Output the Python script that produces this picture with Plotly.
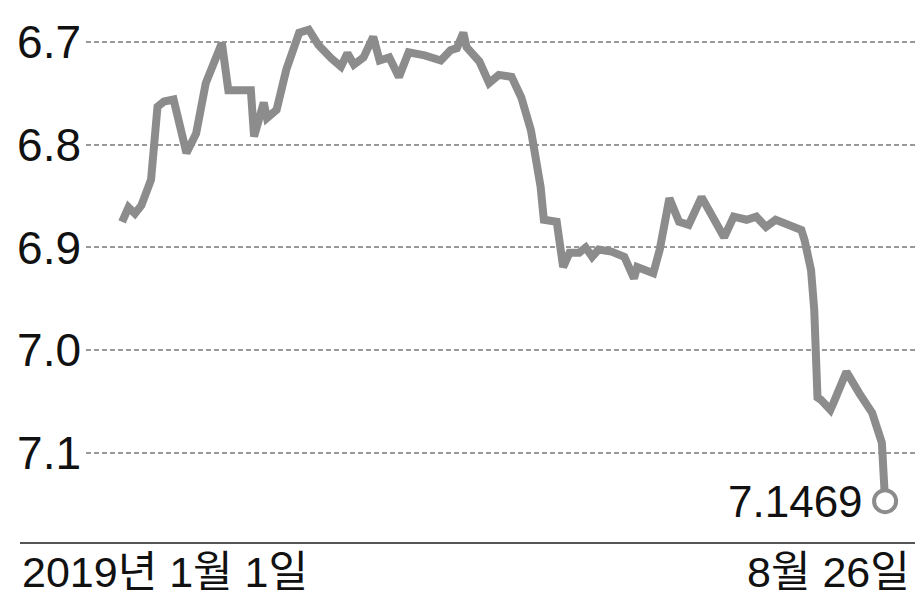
"""위안화 환율 추이 (2019.1.1 ~ 8.26) — 역전된 y축 선 그래프"""

import plotly.graph_objects as go

# ============================================================
# 데이터
# ============================================================

dates = [
    '2019-01-01', '2019-01-03', '2019-01-05', '2019-01-07', '2019-01-10',
    '2019-01-12', '2019-01-14', '2019-01-17', '2019-01-21', '2019-01-24',
    '2019-01-27', '2019-01-30', '2019-02-01', '2019-02-03', '2019-02-10',
    '2019-02-11', '2019-02-14', '2019-02-15', '2019-02-18', '2019-02-21',
    '2019-02-25', '2019-02-28', '2019-03-03', '2019-03-07', '2019-03-10',
    '2019-03-12', '2019-03-14', '2019-03-17', '2019-03-20', '2019-03-22',
    '2019-03-25', '2019-03-28', '2019-03-31', '2019-04-05', '2019-04-10',
    '2019-04-13', '2019-04-15', '2019-04-17', '2019-04-18', '2019-04-22',
    '2019-04-25', '2019-04-28', '2019-05-02', '2019-05-05', '2019-05-08',
    '2019-05-11', '2019-05-12', '2019-05-16', '2019-05-18', '2019-05-20',
    '2019-05-23', '2019-05-25', '2019-05-27', '2019-05-29', '2019-06-02',
    '2019-06-06', '2019-06-09', '2019-06-10', '2019-06-15', '2019-06-17',
    '2019-06-20', '2019-06-23', '2019-06-26', '2019-06-30', '2019-07-04',
    '2019-07-07', '2019-07-10', '2019-07-14', '2019-07-17', '2019-07-20',
    '2019-07-23', '2019-07-28', '2019-07-31', '2019-08-01', '2019-08-03',
    '2019-08-04', '2019-08-05', '2019-08-06', '2019-08-09', '2019-08-10',
    '2019-08-14', '2019-08-18', '2019-08-22', '2019-08-25', '2019-08-26',
]

rates = [
    6.875, 6.861, 6.867, 6.859, 6.834,
    6.763, 6.758, 6.756, 6.808, 6.789,
    6.740, 6.719, 6.701, 6.747, 6.747,
    6.792, 6.759, 6.774, 6.766, 6.727,
    6.691, 6.688, 6.703, 6.716, 6.724,
    6.711, 6.722, 6.715, 6.695, 6.718,
    6.715, 6.734, 6.710, 6.713, 6.718,
    6.708, 6.706, 6.691, 6.705, 6.719,
    6.740, 6.732, 6.734, 6.754, 6.786,
    6.841, 6.873, 6.875, 6.919, 6.905,
    6.905, 6.900, 6.909, 6.902, 6.904,
    6.909, 6.930, 6.919, 6.925, 6.902,
    6.852, 6.875, 6.878, 6.851, 6.873,
    6.890, 6.870, 6.873, 6.870, 6.880,
    6.873, 6.880, 6.883, 6.893, 6.922,
    6.961, 7.046, 7.048, 7.058, 7.051,
    7.021, 7.042, 7.061, 7.090, 7.1469,
]

y_ticks = [6.7, 6.8, 6.9, 7.0, 7.1]
y_ticktext = ['6.7', '6.8', '6.9', '7.0', '7.1']

start_label = '2019년 1월 1일'
end_label = '8월 26일'
last_label = '7.1469'

FONT = 'Liberation Sans, Noto Sans CJK KR, sans-serif'
LINE_COLOR = '#8c8c8c'

# ============================================================
# 그림 (페이지 body 여백 8px 을 감안해 크기를 줄임)
# ============================================================

fig = go.Figure()

fig.add_trace(go.Scatter(
    x=dates, y=rates, mode='lines',
    line=dict(color=LINE_COLOR, width=8),
    hoverinfo='skip', showlegend=False,
))

# 마지막 값: 흰 원
fig.add_trace(go.Scatter(
    x=[dates[-1]], y=[rates[-1]], mode='markers',
    marker=dict(size=22, color='white', line=dict(color=LINE_COLOR, width=4)),
    hoverinfo='skip', showlegend=False,
))

fig.add_annotation(
    x=dates[-1], y=rates[-1], text=last_label, showarrow=False,
    xanchor='right', yanchor='middle', xshift=-20,
    font=dict(family=FONT, size=44, color='#111'),
)

# 하단 날짜
fig.add_annotation(
    x=-0.0796, y=0, xref='paper', yref='paper', text=start_label,
    showarrow=False, xanchor='left', yanchor='top', yshift=-3,
    font=dict(family=FONT, size=43, color='#111'),
)
fig.add_annotation(
    x=0.9964, y=0, xref='paper', yref='paper', text=end_label,
    showarrow=False, xanchor='right', yanchor='top', yshift=-3,
    font=dict(family=FONT, size=43, color='#111'),
)

# 하단 축선
fig.add_shape(
    type='line', xref='paper', yref='paper',
    x0=-0.0796, x1=1.0, y0=0, y1=0,
    line=dict(color='#555', width=2),
)

fig.update_layout(
    width=916, height=596,
    margin=dict(l=78, r=9, t=12, b=61),
    paper_bgcolor='white', plot_bgcolor='white',
    xaxis=dict(
        range=['2018-12-20 19:00', '2019-09-04 07:00'],
        showgrid=False, showticklabels=False, zeroline=False, showline=False,
        automargin=False,
    ),
    yaxis=dict(
        range=[7.1876, 6.6786],
        tickvals=y_ticks, ticktext=y_ticktext,
        showgrid=True, gridcolor='#999', gridwidth=2, griddash='5px,3px',
        zeroline=False, showline=False, ticks='',
        ticklabelstandoff=4, automargin=False,
        tickfont=dict(family=FONT, size=46, color='#111'),
    ),
)

fig.write_html('out.html')
